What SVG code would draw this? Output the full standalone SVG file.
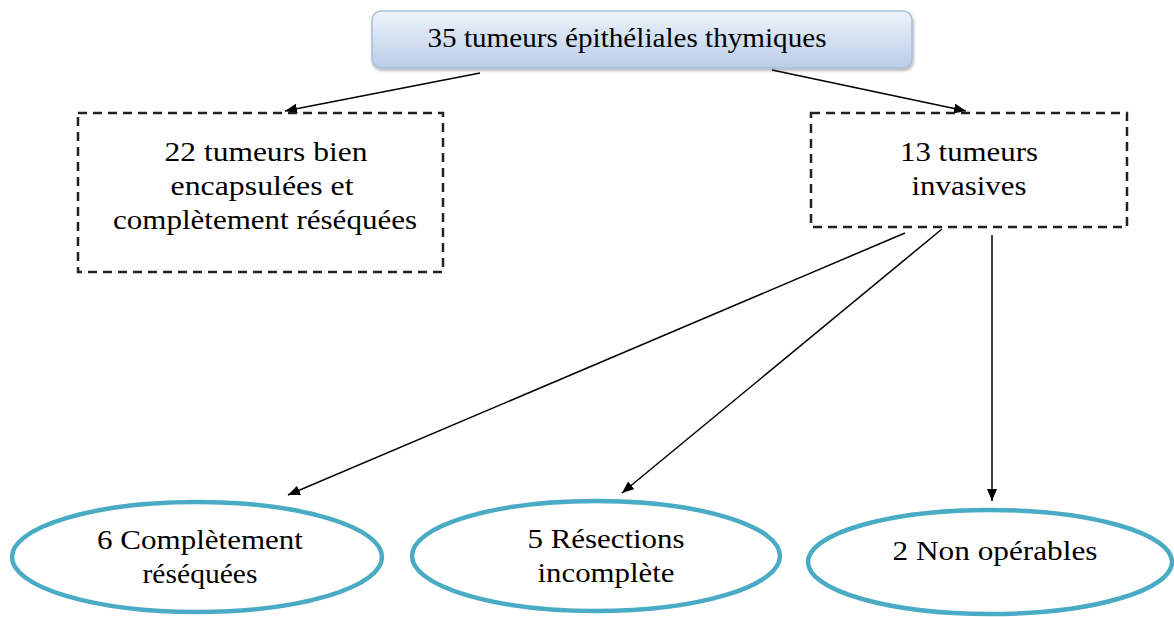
<svg xmlns="http://www.w3.org/2000/svg" width="1174" height="617" viewBox="0 0 1174 617">
<style>
text{font-family:"Liberation Serif","DejaVu Serif",serif;font-size:28px;fill:#000;text-anchor:middle}
.dash{fill:#fff;stroke:#222;stroke-width:2.5;stroke-dasharray:9 6}
.ell{fill:#fff;stroke:#4aabc4;stroke-width:4.5}
.con{stroke:#000;stroke-width:1.5;fill:none;marker-end:url(#ah)}
</style>
<defs>
<linearGradient id="g" x1="0" y1="0" x2="0" y2="1">
<stop offset="0" stop-color="#eef3fb"/>
<stop offset="1" stop-color="#b9cde6"/>
</linearGradient>
<filter id="sh" x="-5%" y="-20%" width="110%" height="150%">
<feDropShadow dx="1" dy="2" stdDeviation="1.5" flood-color="#000" flood-opacity="0.3"/>
</filter>
<marker id="ah" viewBox="0 0 12 10" refX="12" refY="5" markerWidth="12" markerHeight="10" markerUnits="userSpaceOnUse" orient="auto">
<path d="M0,0 L12,5 L0,10 z" fill="#000"/>
</marker>
</defs>
<g id="connectors">
<line class="con" x1="480" y1="73" x2="285" y2="111"/>
<line class="con" x1="772" y1="70" x2="966" y2="111"/>
<line class="con" x1="905" y1="233" x2="288" y2="495"/>
<line class="con" x1="942" y1="229" x2="622" y2="493"/>
<line class="con" x1="992" y1="235" x2="992" y2="501"/>
</g>
<g id="n-root">
<rect x="372" y="11" width="540" height="57" rx="9" fill="url(#g)" stroke="#a7bfdc" stroke-width="1.5" filter="url(#sh)"/>
<text x="627" y="47" textLength="399" lengthAdjust="spacingAndGlyphs">35 tumeurs épithéliales thymiques</text>
</g>
<g id="n-encap">
<rect class="dash" x="78" y="113" width="365" height="159"/>
<text x="266" y="161" textLength="203" lengthAdjust="spacingAndGlyphs">22 tumeurs bien</text>
<text x="262" y="195" textLength="183" lengthAdjust="spacingAndGlyphs">encapsulées et</text>
<text x="265" y="229" textLength="304" lengthAdjust="spacingAndGlyphs">complètement réséquées</text>
</g>
<g id="n-invasive">
<rect class="dash" x="811" y="113" width="316" height="114"/>
<text x="969" y="161" textLength="138" lengthAdjust="spacingAndGlyphs">13 tumeurs</text>
<text x="969" y="195" textLength="115" lengthAdjust="spacingAndGlyphs">invasives</text>
</g>
<g id="n-complete">
<ellipse class="ell" cx="197" cy="557" rx="185" ry="55"/>
<text x="200" y="549" textLength="206" lengthAdjust="spacingAndGlyphs">6 Complètement</text>
<text x="200" y="583" textLength="115" lengthAdjust="spacingAndGlyphs">réséquées</text>
</g>
<g id="n-incomplete">
<ellipse class="ell" cx="596" cy="556" rx="184" ry="55"/>
<text x="606" y="548" textLength="157" lengthAdjust="spacingAndGlyphs">5 Résections</text>
<text x="606" y="582" textLength="137" lengthAdjust="spacingAndGlyphs">incomplète</text>
</g>
<g id="n-nonop">
<ellipse class="ell" cx="990" cy="562" rx="182" ry="52"/>
<text x="995" y="560" textLength="205" lengthAdjust="spacingAndGlyphs">2 Non opérables</text>
</g>
</svg>
